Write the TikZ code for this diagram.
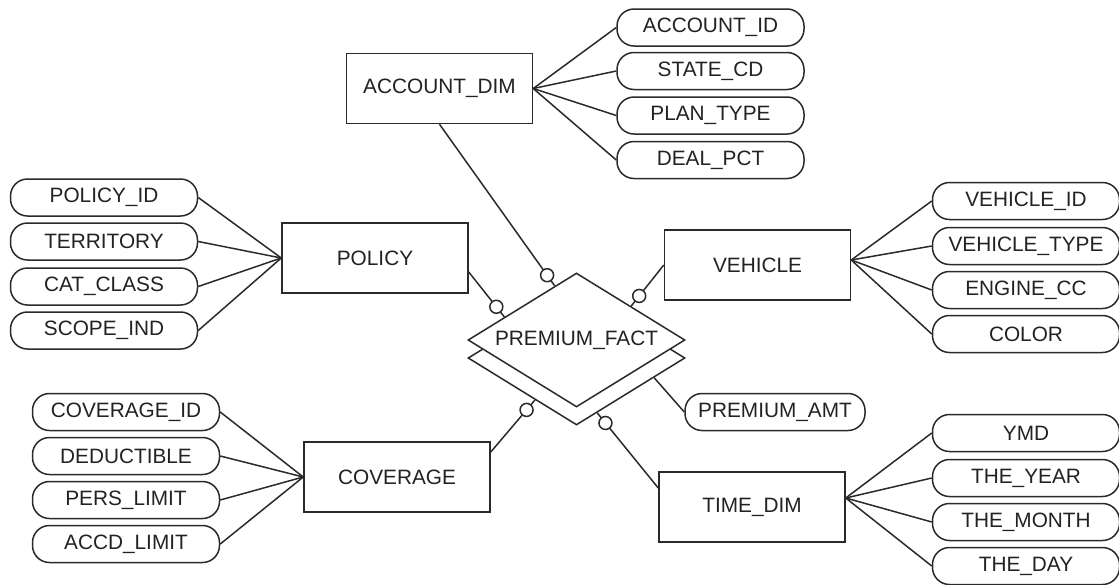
\documentclass[tikz,border=0pt]{standalone}
\usepackage{fontspec}
\setmainfont{Liberation Sans}
\usetikzlibrary{shapes.geometric,calc}
\definecolor{erline}{HTML}{2A2A2A}
\definecolor{ertext}{HTML}{222222}

\begin{document}
\begin{tikzpicture}[
    x=0.5pt,y=-0.5pt,
    font=\fontsize{10.4}{12}\selectfont,text=ertext,
    ent/.style={draw=erline,line width=0.75pt,fill=white,
                minimum width=93pt,minimum height=35pt,inner sep=0pt},
    att/.style={draw=erline,line width=0.75pt,rounded corners=8.5pt,
                minimum width=93.5pt,minimum height=18.5pt,inner sep=0pt},
    fct/.style={draw=erline,line width=0.75pt,fill=white,diamond,aspect=1.62,
                inner sep=0pt,minimum width=108.5pt,minimum height=67pt},
    ln/.style={draw=erline,line width=0.75pt},
    ring/.style={circle,draw=erline,line width=0.75pt,fill=white,
                 inner sep=0pt,minimum size=6.5pt}
  ]
    \useasboundingbox (0,0) rectangle (1119,584);

    % Entities
    \node[ent] (acc) at (439.5,88.5) {ACCOUNT\_DIM};
    \node[ent] (pol) at (375,258)    {POLICY};
    \node[ent] (veh) at (757.5,265)  {VEHICLE};
    \node[ent] (cov) at (397,477)    {COVERAGE};
    \node[ent] (tim) at (752,507)    {TIME\_DIM};

    % Fact table (stacked diamond)
    \node[fct] (back) at (576.5,358) {};
    \node[fct] (fact) at (576.5,340) {PREMIUM\_FACT};

    % Attributes
    \node[att] (accid)    at (710.5,27.5) {ACCOUNT\_ID};
    \node[att] (statecd)  at (710.5,71)   {STATE\_CD};
    \node[att] (plantype) at (710.5,115.5){PLAN\_TYPE};
    \node[att] (dealpct)  at (710.5,160)  {DEAL\_PCT};

    \node[att] (polid)  at (104,197.5) {POLICY\_ID};
    \node[att] (terr)   at (104,241.5) {TERRITORY};
    \node[att] (catcls) at (104,286.5) {CAT\_CLASS};
    \node[att] (scope)  at (104,330.5) {SCOPE\_IND};

    \node[att] (vehid)   at (1026,201) {VEHICLE\_ID};
    \node[att] (vehtype) at (1026,246) {VEHICLE\_TYPE};
    \node[att] (engcc)   at (1026,290) {ENGINE\_CC};
    \node[att] (color)   at (1026,334) {COLOR};

    \node[att] (covid)   at (126,412) {COVERAGE\_ID};
    \node[att] (deduct)  at (126,456) {DEDUCTIBLE};
    \node[att] (perslim) at (126,500) {PERS\_LIMIT};
    \node[att] (accdlim) at (126,544) {ACCD\_LIMIT};

    \node[att] (ymd)      at (1026,433) {YMD};
    \node[att] (theyear)  at (1026,478) {THE\_YEAR};
    \node[att] (themonth) at (1026,522) {THE\_MONTH};
    \node[att] (theday)   at (1026,566) {THE\_DAY};

    \node[att,minimum width=90pt] (amt) at (775,412) {PREMIUM\_AMT};

    % Attribute links
    \foreach \a in {accid,statecd,plantype,dealpct}
      \draw[ln] (acc.east) -- (\a.west);
    \foreach \a in {polid,terr,catcls,scope}
      \draw[ln] (pol.west) -- (\a.east);
    \foreach \a in {vehid,vehtype,engcc,color}
      \draw[ln] ([yshift=2.5pt]veh.east) -- (\a.west);
    \foreach \a in {covid,deduct,perslim,accdlim}
      \draw[ln] (cov.west) -- (\a.east);
    \foreach \a in {ymd,theyear,themonth,theday}
      \draw[ln] ([yshift=4.5pt]tim.east) -- (\a.west);

    % Dimension links (optional end at the fact)
    \coordinate (fa) at ($(fact.west)!0.8!(fact.north)$);
    \coordinate (fp) at ($(fact.west)!0.34!(fact.north)$);
    \coordinate (fv) at ($(fact.north)!0.5!(fact.east)$);
    \coordinate (fc) at ($(back.west)!0.62!(back.south)$);
    \coordinate (ft) at ($(back.south)!0.19!(back.east)$);
    \coordinate (fm) at ($(back.south)!0.71!(back.east)$);

    \draw[ln] (fa) -- (acc.south);
    \draw[ln] (fp) -- ([yshift=-7pt]pol.east);
    \draw[ln] (fv) -- (veh.west);
    \draw[ln] (fc) -- ([yshift=12.5pt]cov.east);
    \draw[ln] (ft) -- ([yshift=9.5pt]tim.west);
    \draw[ln] (fm) -- (amt.west);

    \node[ring] at ($(fa)!6.5pt!(acc.south)$) {};
    \node[ring] at ($(fp)!6.5pt!([yshift=-7pt]pol.east)$) {};
    \node[ring] at ($(fv)!6.5pt!(veh.west)$) {};
    \node[ring] at ($(fc)!6.5pt!([yshift=12.5pt]cov.east)$) {};
    \node[ring] at ($(ft)!6.5pt!([yshift=9.5pt]tim.west)$) {};

  \end{tikzpicture}
\end{document}
